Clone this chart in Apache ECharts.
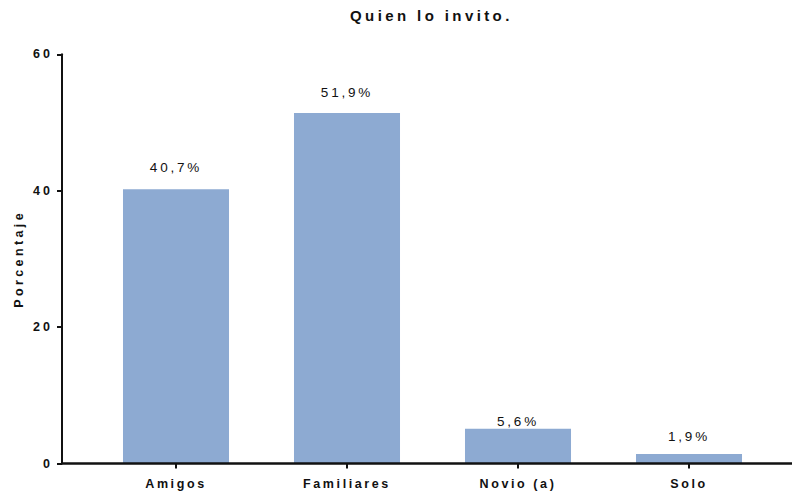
<!DOCTYPE html>
<html>
<head>
<meta charset="utf-8">
<script src="https://cdn.jsdelivr.net/npm/echarts@6/dist/echarts.min.js"></script>
<style>
html,body{margin:0;padding:0;background:#fff;}
#chart{width:792px;height:494px;}
</style>
</head>
<body>
<div id="chart"></div>
<script>
// ---- data ----
const titleText = 'Quien lo invito.';
const yAxisName = 'Porcentaje';
const categories = ['Amigos', 'Familiares', 'Novio (a)', 'Solo'];
const barValues = [40.2, 51.4, 5.1, 1.4];
const barLabels = ['40,7%', '51,9%', '5,6%', '1,9%'];
const yTicks = [0, 20, 40, 60];

// ---- layout / style ----
const labelGaps = [14.5, 13.5, 0.5, 10.5];
const FONT = "'Liberation Sans', Arial, sans-serif";
const INK = '#111111';
const BAR = '#8DAAD2';

const chart = echarts.init(document.getElementById('chart'), null, {renderer: 'svg'});

const option = {
  animation: false,
  backgroundColor: '#fff',
  title: {
    text: titleText,
    left: 350, top: 8, padding: 0,
    textStyle: {fontFamily: FONT, fontSize: 15, fontWeight: 'bold', color: INK}
  },
  grid: {left: 90.5, right: 17.5, top: 54.3, bottom: 30.5, containLabel: false},
  xAxis: {
    type: 'category',
    data: categories,
    axisLine: {show: false},
    axisTick: {show: true, alignWithLabel: true, length: 5, lineStyle: {color: INK, width: 2}},
    axisLabel: {fontFamily: FONT, fontSize: 12.5, fontWeight: 'bold', color: INK, margin: 14}
  },
  yAxis: {
    type: 'value',
    min: yTicks[0], max: yTicks[yTicks.length - 1], interval: 20,
    offset: 28.5,
    name: yAxisName,
    nameLocation: 'middle',
    nameRotate: 90,
    nameGap: 37,
    nameTextStyle: {fontFamily: FONT, fontSize: 12.5, fontWeight: 'bold', color: INK},
    axisLine: {show: true, lineStyle: {color: INK, width: 2}},
    axisTick: {show: true, length: 5, lineStyle: {color: INK, width: 2}},
    axisLabel: {fontFamily: FONT, fontSize: 12.5, fontWeight: 'bold', color: INK, margin: 9},
    splitLine: {show: false}
  },
  series: [{
    type: 'bar',
    barWidth: '62%',
    itemStyle: {color: BAR},
    data: barValues.map((v, i) => ({
      value: v,
      label: {
        show: true, position: 'top', distance: labelGaps[i],
        formatter: () => barLabels[i],
        fontFamily: FONT, fontSize: 13.5, color: INK
      }
    }))
  }]
};
chart.setOption(option);

function drawBaseline() {
  const y0 = chart.convertToPixel({yAxisIndex: 0}, 0);
  chart.setOption({
    graphic: [{
      type: 'line', z: 10,
      shape: {x1: 61, y1: y0, x2: 792, y2: y0},
      style: {stroke: INK, lineWidth: 2.5}
    }]
  });
}
drawBaseline();

function spacingFor(t) {
  if (t === titleText) return 3.4;
  if (t === yAxisName) return 3.4;
  if (categories.indexOf(t) >= 0) return 2.6;
  if (barLabels.indexOf(t) >= 0) return 2.8;
  if (/^\d+$/.test(t)) return 3;
  return 0;
}
function applySpacing() {
  document.querySelectorAll('#chart svg text').forEach(el => {
    const s = spacingFor(el.textContent.trim());
    if (s) el.style.letterSpacing = s + 'px';
  });
}
chart.on('finished', applySpacing);
setTimeout(applySpacing, 50);
setTimeout(applySpacing, 300);
</script>
</body>
</html>
